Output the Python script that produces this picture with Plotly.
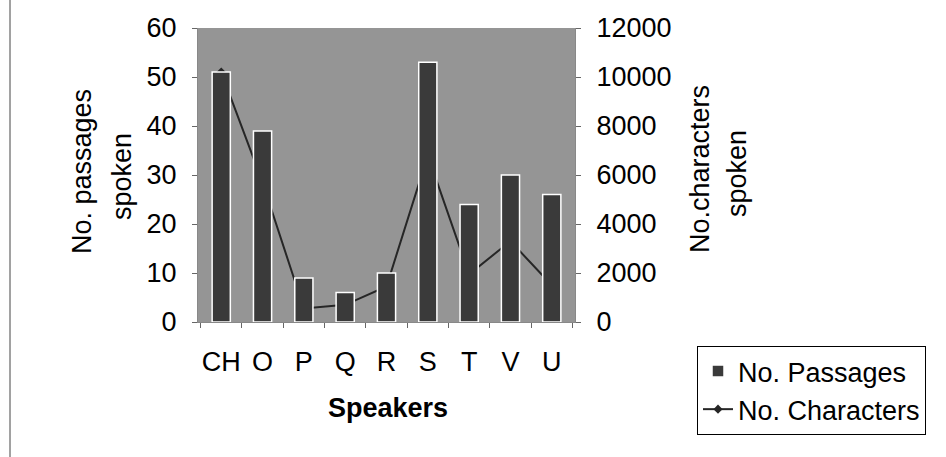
import plotly.graph_objects as go

speakers = ["CH", "O", "P", "Q", "R", "S", "T", "V", "U"]
passages = [51, 39, 9, 6, 10, 53, 24, 30, 26]
characters = [10200, 5700, 550, 700, 1450, 6800, 1950, 3300, 1500]

W, H = 946, 457
L, R, T, B = 198, 575, 28, 322
pw, ph = R - L, B - T

def px(x):
    return (x - L) / pw

def py(y):
    return (B - y) / ph

FONT = "Liberation Sans, Arial, sans-serif"
FS = 27

fig = go.Figure()
fig.add_trace(go.Bar(
    x=speakers, y=passages, name="No. Passages", yaxis="y2",
    marker=dict(color="#3a3a3a", line=dict(color="white", width=1.5)),
    width=0.44,
))
fig.add_trace(go.Scatter(
    x=speakers, y=characters, name="No. Characters", yaxis="y",
    mode="lines+markers",
    line=dict(color="#262626", width=2),
    marker=dict(symbol="diamond", size=7, color="#262626"),
))

fig.update_layout(
    width=W, height=H,
    margin=dict(l=L, r=W - R, t=T, b=H - B),
    paper_bgcolor="white",
    plot_bgcolor="#959595",
    font=dict(family=FONT, size=FS, color="black"),
    showlegend=True,
    legend=dict(
        x=px(697), y=py(346), xanchor="left", yanchor="top",
        bgcolor="white", bordercolor="black", borderwidth=1,
        font=dict(size=FS, family=FONT),
        tracegroupgap=0,
    ),
    xaxis=dict(
        type="category", categoryorder="array", categoryarray=speakers,
        ticks="outside", tickson="boundaries", ticklen=5, tickcolor="#666",
        showgrid=False, showline=True, linecolor="#888", linewidth=1,
        tickfont=dict(size=FS), tickangle=0, ticklabelstandoff=16,
    ),
    yaxis=dict(
        side="right", range=[0, 12000], dtick=2000, tickformat="d",
        ticks="outside", ticklen=5, tickcolor="#666",
        showgrid=False, zeroline=False, showline=True, linecolor="#888",
        tickfont=dict(size=FS), ticklabelstandoff=10,
    ),
    yaxis2=dict(
        overlaying="y", side="left", range=[0, 60], dtick=10,
        ticks="outside", ticklen=5, tickcolor="#666",
        showgrid=False, zeroline=False, showline=True, linecolor="#888",
        tickfont=dict(size=FS), ticklabelstandoff=10,
    ),
    bargap=0.56,
)

ann = [
    ("No. passages", 82, 172, -90),
    ("spoken", 122, 177, -90),
    ("No.characters", 700, 169, -90),
    ("spoken", 737, 174, -90),
    ("<b>Speakers</b>", 388, 408, 0),
]
for text, x, y, ang in ann:
    fig.add_annotation(
        text=text, x=px(x), y=py(y), xref="paper", yref="paper",
        xanchor="center", yanchor="middle", showarrow=False,
        textangle=ang, font=dict(size=FS, family=FONT, color="black"),
    )

fig.add_shape(type="line", xref="paper", yref="paper",
              x0=px(10), x1=px(10), y0=py(H), y1=py(0),
              line=dict(color="#444", width=1))

fig.write_html("out.html")
